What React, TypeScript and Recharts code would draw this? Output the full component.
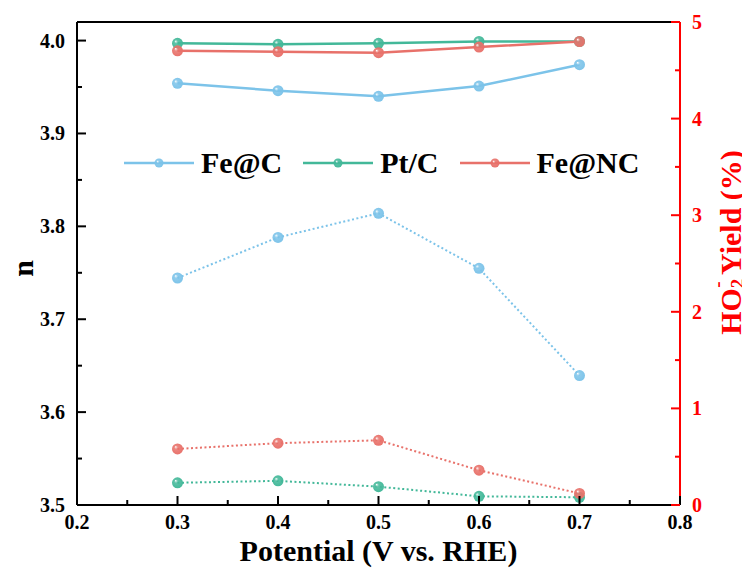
import { LineChart, Line, XAxis, YAxis, ReferenceLine } from 'recharts';

const potential = [0.3, 0.4, 0.5, 0.6, 0.7];

// electron transfer number (left axis)
const nFeC = [3.954, 3.946, 3.94, 3.951, 3.974];
const nPtC = [3.997, 3.996, 3.997, 3.999, 3.999];
const nFeNC = [3.989, 3.988, 3.987, 3.993, 3.999];

// HO2- yield in % (right axis)
const yFeC = [2.35, 2.77, 3.02, 2.45, 1.34];
const yPtC = [0.23, 0.25, 0.19, 0.09, 0.08];
const yFeNC = [0.58, 0.64, 0.67, 0.36, 0.12];

const xTicks = [0.2, 0.25, 0.3, 0.35, 0.4, 0.45, 0.5, 0.55, 0.6, 0.65, 0.7, 0.75, 0.8];
const nTicks = [3.5, 3.55, 3.6, 3.65, 3.7, 3.75, 3.8, 3.85, 3.9, 3.95, 4.0];
const yieldTicks = [0, 0.5, 1, 1.5, 2, 2.5, 3, 3.5, 4, 4.5, 5];
const nTop = 4.02;

const data = potential.map((p, i) => ({
  p,
  nFeC: nFeC[i],
  nPtC: nPtC[i],
  nFeNC: nFeNC[i],
  yFeC: yFeC[i],
  yPtC: yPtC[i],
  yFeNC: yFeNC[i],
}));

const BLUE = '#7cc3e9';
const TEAL = '#43b899';
const RED = '#e8716a';
const FONT = '"Liberation Serif", "Times New Roman", serif';

const isMajor = (v: number, step: number) => Math.abs(Math.round(v / step) * step - v) < 1e-6;

const XTick = ({ x, y, payload }: any) => {
  const major = isMajor(payload.value, 0.1);
  return (
    <g>
      <line x1={x} x2={x} y1={y} y2={y - (major ? 9 : 5)} stroke="#000" strokeWidth={2} />
      {major && (
        <text x={x} y={y + 24} textAnchor="middle" fontFamily={FONT} fontWeight="bold" fontSize={20} fill="#000">
          {payload.value.toFixed(1)}
        </text>
      )}
    </g>
  );
};

const LeftTick = ({ x, y, payload }: any) => {
  const major = isMajor(payload.value, 0.1);
  return (
    <g>
      <line x1={x} x2={x + (major ? 9 : 5)} y1={y} y2={y} stroke="#000" strokeWidth={2} />
      {major && (
        <text x={x - 12} y={y + 7} textAnchor="end" fontFamily={FONT} fontWeight="bold" fontSize={20} fill="#000">
          {payload.value.toFixed(1)}
        </text>
      )}
    </g>
  );
};

const RightTick = ({ x, y, payload }: any) => {
  const major = isMajor(payload.value, 1);
  return (
    <g>
      <line x1={x} x2={x - (major ? 9 : 5)} y1={y} y2={y} stroke="#ff0000" strokeWidth={2} />
      {major && (
        <text x={x + 12} y={y + 7} textAnchor="start" fontFamily={FONT} fontWeight="bold" fontSize={20} fill="#ff0000">
          {payload.value}
        </text>
      )}
    </g>
  );
};

const Sphere = ({ cx, cy, grad, r = 5.5 }: any) => {
  if (cx == null || cy == null) return null;
  return <circle cx={cx} cy={cy} r={r} fill={`url(#${grad})`} />;
};

const dotFor = (grad: string) => (props: any) => (
  <Sphere key={`${grad}-${props.index}`} cx={props.cx} cy={props.cy} grad={grad} />
);

const legendItems = [
  { name: 'Fe@C', color: BLUE, grad: 'gBlue' },
  { name: 'Pt/C', color: TEAL, grad: 'gTeal' },
  { name: 'Fe@NC', color: RED, grad: 'gRed' },
];

const LegendBox = () => (
  <div style={{ position: 'absolute', top: 138, left: 116, display: 'flex', alignItems: 'center' }}>
    {legendItems.map((it) => (
      <div key={it.name} style={{ display: 'flex', alignItems: 'center', marginRight: 21 }}>
        <svg width={70} height={20}>
          <line x1={0} x2={70} y1={10} y2={10} stroke={it.color} strokeWidth={2.5} />
          <circle cx={35} cy={10} r={4.5} fill={`url(#${it.grad})`} />
        </svg>
        <span style={{ marginLeft: 7, fontFamily: FONT, fontWeight: 'bold', fontSize: 30, color: '#000', lineHeight: '34px' }}>
          {it.name}
        </span>
      </div>
    ))}
  </div>
);

const Gradients = () => (
  <svg width={0} height={0} style={{ position: 'absolute' }}>
    <defs>
      {[
        ['gBlue', BLUE],
        ['gTeal', TEAL],
        ['gRed', RED],
      ].map(([id, c]) => (
        <radialGradient key={id} id={id} cx="0.5" cy="0.5" r="0.55" fx="0.32" fy="0.3">
          <stop offset="0%" stopColor="#ffffff" />
          <stop offset="30%" stopColor={c} stopOpacity={0.85} />
          <stop offset="100%" stopColor={c} />
        </radialGradient>
      ))}
    </defs>
  </svg>
);

export default function App() {
  return (
    <div style={{ position: 'relative', width: 742, height: 571 }}>
      <Gradients />
      <LineChart width={742} height={571} data={data} margin={{ top: 14, right: 10, bottom: 24, left: 9 }}>
        <XAxis
          dataKey="p"
          type="number"
          domain={[0.2, 0.8]}
          ticks={xTicks}
          interval={0}
          allowDataOverflow
          height={50}
          tickSize={0}
          tickMargin={0}
          tickLine={false}
          axisLine={{ stroke: '#000', strokeWidth: 2 }}
          tick={<XTick />}
          label={(props: any) => {
            const vb = props.viewBox;
            return (
              <text x={vb.x + vb.width / 2} y={vb.y + 56} textAnchor="middle" fontFamily={FONT} fontWeight="bold" fontSize={30} fill="#000">
                Potential (V vs. RHE)
              </text>
            );
          }}
        />
        <YAxis
          yAxisId="left"
          orientation="left"
          domain={[3.5, nTop]}
          ticks={nTicks}
          interval={0}
          allowDataOverflow
          width={60}
          tickSize={0}
          tickMargin={0}
          tickLine={false}
          axisLine={{ stroke: '#000', strokeWidth: 2 }}
          tick={<LeftTick />}
          label={(props: any) => {
            const vb = props.viewBox;
            const cx = vb.x + 5;
            const cy = vb.y + vb.height / 2 + 5;
            return (
              <text x={cx} y={cy} transform={`rotate(-90, ${cx}, ${cy})`} textAnchor="middle" dominantBaseline="central" fontFamily={FONT} fontWeight="bold" fontSize={30} fill="#000">
                n
              </text>
            );
          }}
        />
        <YAxis
          yAxisId="right"
          orientation="right"
          domain={[0, 5]}
          ticks={yieldTicks}
          interval={0}
          allowDataOverflow
          width={60}
          tickSize={0}
          tickMargin={0}
          tickLine={false}
          axisLine={{ stroke: '#ff0000', strokeWidth: 2 }}
          tick={<RightTick />}
          label={(props: any) => {
            const vb = props.viewBox;
            const cx = vb.x + 50;
            const cy = vb.y + vb.height / 2 - 21;
            return (
              <text x={cx} y={cy} transform={`rotate(-90, ${cx}, ${cy})`} textAnchor="middle" dominantBaseline="central" fontFamily={FONT} fontWeight="bold" fontSize={30} fill="#ff0000">
                HO
                <tspan fontSize={19} dy={7}>2</tspan>
                <tspan fontSize={19} dx={-9} dy={-20}>-</tspan>
                <tspan dy={13}> Yield (%)</tspan>
              </text>
            );
          }}
        />
        <ReferenceLine yAxisId="left" y={nTop} stroke="#000" strokeWidth={2} />

        <Line yAxisId="right" dataKey="yFeC" name="Fe@C yield" stroke={BLUE} strokeWidth={2} strokeDasharray="2 2.5" dot={dotFor('gBlue')} legendType="none" isAnimationActive={false} />
        <Line yAxisId="right" dataKey="yPtC" name="Pt/C yield" stroke={TEAL} strokeWidth={2} strokeDasharray="2 2.5" dot={dotFor('gTeal')} legendType="none" isAnimationActive={false} />
        <Line yAxisId="right" dataKey="yFeNC" name="Fe@NC yield" stroke={RED} strokeWidth={2} strokeDasharray="2 2.5" dot={dotFor('gRed')} legendType="none" isAnimationActive={false} />

        <Line yAxisId="left" dataKey="nFeC" name="Fe@C" stroke={BLUE} strokeWidth={2.5} dot={dotFor('gBlue')} isAnimationActive={false} />
        <Line yAxisId="left" dataKey="nPtC" name="Pt/C" stroke={TEAL} strokeWidth={2.5} dot={dotFor('gTeal')} isAnimationActive={false} />
        <Line yAxisId="left" dataKey="nFeNC" name="Fe@NC" stroke={RED} strokeWidth={2.5} dot={dotFor('gRed')} isAnimationActive={false} />
      </LineChart>
      <LegendBox />
    </div>
  );
}
